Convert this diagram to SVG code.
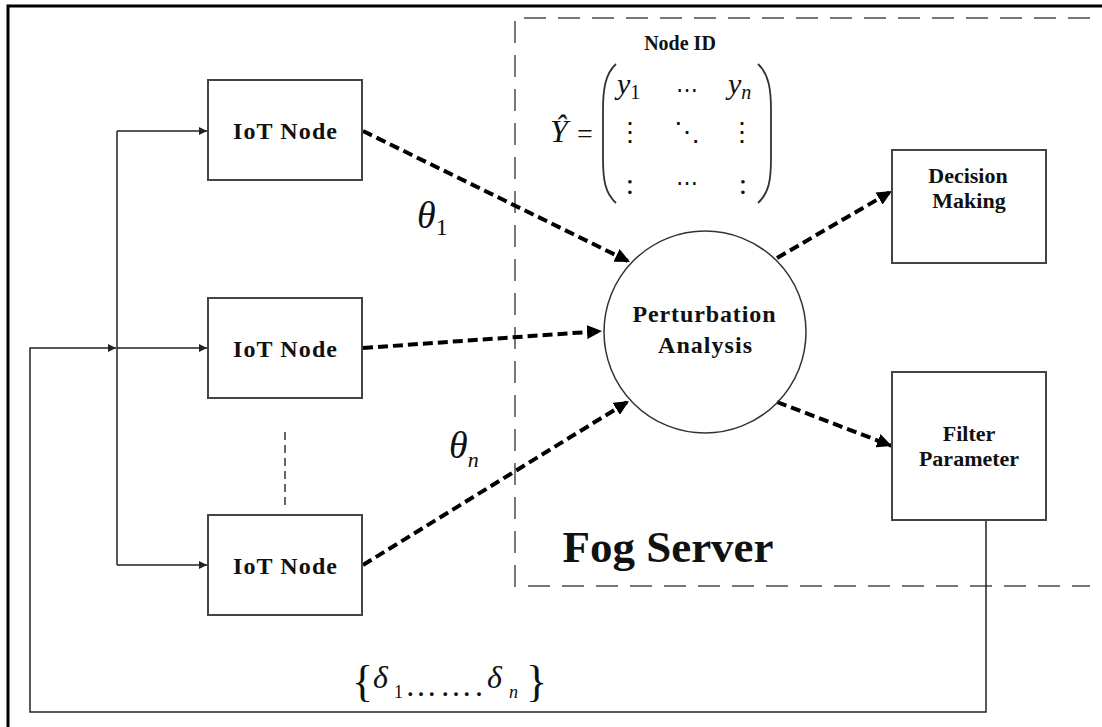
<svg xmlns="http://www.w3.org/2000/svg" width="1102" height="727" viewBox="0 0 1102 727">
<style>
.lbl{font-family:"Liberation Serif","Times New Roman",serif;font-weight:bold;fill:#111;text-anchor:middle}
.box{fill:#fff;stroke:#444;stroke-width:2}
.thin{fill:none;stroke:#222;stroke-width:1.5}
.dash{fill:none;stroke:#000;stroke-width:4;stroke-dasharray:10 5}
.fog{fill:none;stroke:#777;stroke-width:2;stroke-dasharray:22 12}
.math{font-family:"Liberation Serif","DejaVu Serif",serif;fill:#111}
</style>
<defs>
<marker id="ah" markerUnits="userSpaceOnUse" markerWidth="16" markerHeight="14" refX="15" refY="7" orient="auto">
<path d="M0,0 L15,7 L0,14 z" fill="#000"/>
</marker>
<marker id="sa" markerUnits="userSpaceOnUse" markerWidth="9" markerHeight="8" refX="8" refY="4" orient="auto">
<path d="M0,0 L8,4 L0,8 z" fill="#222"/>
</marker>
</defs>
<rect width="1102" height="727" fill="#fff"/>
<g id="frame">
<path d="M8 727 V6 H1102" fill="none" stroke="#000" stroke-width="3"/>
</g>
<g id="fog-server">
<path class="fog" d="M1090 18 H515 V586 H1090"/>
<text class="lbl" x="668" y="562" font-size="45">Fog Server</text>
</g>
<g id="matrix">
<text class="lbl" x="680" y="50" font-size="20">Node ID</text>
<text class="math" x="550" y="142" font-size="32" font-style="italic">Ŷ</text>
<text class="math" x="577" y="143" font-size="28">=</text>
<path d="M616 64 C605 74 603 90 603 110 L603 158 C603 180 605 193 616 203" fill="none" stroke="#333" stroke-width="1.8"/>
<path d="M758 64 C769 74 771 90 771 110 L771 158 C771 180 769 193 758 203" fill="none" stroke="#333" stroke-width="1.8"/>
<text class="math" x="617" y="94" font-size="30"><tspan font-style="italic">y</tspan><tspan font-size="20" dy="5">1</tspan></text>
<text class="math" x="687" y="97" font-size="22" text-anchor="middle">⋯</text>
<text class="math" x="728" y="94" font-size="30"><tspan font-style="italic">y</tspan><tspan font-size="20" font-style="italic" dy="5">n</tspan></text>
<text class="math" x="630" y="141" font-size="26" text-anchor="middle">⋮</text>
<text class="math" x="687" y="141" font-size="26" text-anchor="middle">⋱</text>
<text class="math" x="742" y="141" font-size="26" text-anchor="middle">⋮</text>
<text class="math" x="630" y="194" font-size="30" text-anchor="middle">:</text>
<text class="math" x="687" y="190" font-size="22" text-anchor="middle">⋯</text>
<text class="math" x="743" y="194" font-size="30" text-anchor="middle">:</text>
</g>
<g id="connectors">
<path class="thin" d="M117 131 V565"/>
<path class="thin" d="M117 131 H207" marker-end="url(#sa)"/>
<path class="thin" d="M117 348 H207" marker-end="url(#sa)"/>
<path class="thin" d="M117 565 H207" marker-end="url(#sa)"/>
<path class="thin" d="M986 520 V712 H30 V348 H116" marker-end="url(#sa)"/>
<path d="M285 432 V508" fill="none" stroke="#333" stroke-width="1.5" stroke-dasharray="8 5"/>
<path class="dash" d="M363 131 L630 262" marker-end="url(#ah)"/>
<path class="dash" d="M363 348 L602 331" marker-end="url(#ah)"/>
<path class="dash" d="M363 565 L629 401" marker-end="url(#ah)"/>
<path class="dash" d="M777 258 L892 191" marker-end="url(#ah)"/>
<path class="dash" d="M777 402 L892 446" marker-end="url(#ah)"/>
</g>
<g id="labels">
<text class="math" x="417" y="228" font-size="38"><tspan font-style="italic">θ</tspan><tspan font-size="24" dy="7">1</tspan></text>
<text class="math" x="449" y="458" font-size="38"><tspan font-style="italic">θ</tspan><tspan font-size="22" font-style="italic" dy="9">n</tspan></text>
<text class="math" x="352" y="696" font-size="44">{</text>
<text class="math" x="373" y="688" font-size="32" font-style="italic">δ</text>
<text class="math" x="394" y="698" font-size="18">1</text>
<text class="math" x="405" y="696" font-size="32" textLength="78" lengthAdjust="spacing">…….</text>
<text class="math" x="487" y="688" font-size="32" font-style="italic">δ</text>
<text class="math" x="509" y="698" font-size="18" font-style="italic">n</text>
<text class="math" x="526" y="696" font-size="44">}</text>
</g>
<g id="iot1">
<rect class="box" x="208" y="80" width="154" height="100"/>
<text class="lbl" x="285" y="139" font-size="24" textLength="104" lengthAdjust="spacing">IoT Node</text>
</g>
<g id="iot2">
<rect class="box" x="208" y="298" width="154" height="100"/>
<text class="lbl" x="285" y="357" font-size="24" textLength="104" lengthAdjust="spacing">IoT Node</text>
</g>
<g id="iot3">
<rect class="box" x="208" y="515" width="154" height="100"/>
<text class="lbl" x="285" y="574" font-size="24" textLength="104" lengthAdjust="spacing">IoT Node</text>
</g>
<g id="perturbation">
<circle cx="705" cy="332" r="101" fill="none" stroke="#333" stroke-width="1.5"/>
<text class="lbl" x="704" y="322" font-size="24" textLength="143" lengthAdjust="spacing">Perturbation</text>
<text class="lbl" x="705" y="353" font-size="24" textLength="94" lengthAdjust="spacing">Analysis</text>
</g>
<g id="decision">
<rect class="box" x="892" y="150" width="154" height="113"/>
<text class="lbl" x="968" y="183" font-size="22">Decision</text>
<text class="lbl" x="969" y="208" font-size="22">Making</text>
</g>
<g id="filter">
<rect class="box" x="892" y="372" width="154" height="148"/>
<text class="lbl" x="969" y="441" font-size="22">Filter</text>
<text class="lbl" x="969" y="466" font-size="22">Parameter</text>
</g>
</svg>
